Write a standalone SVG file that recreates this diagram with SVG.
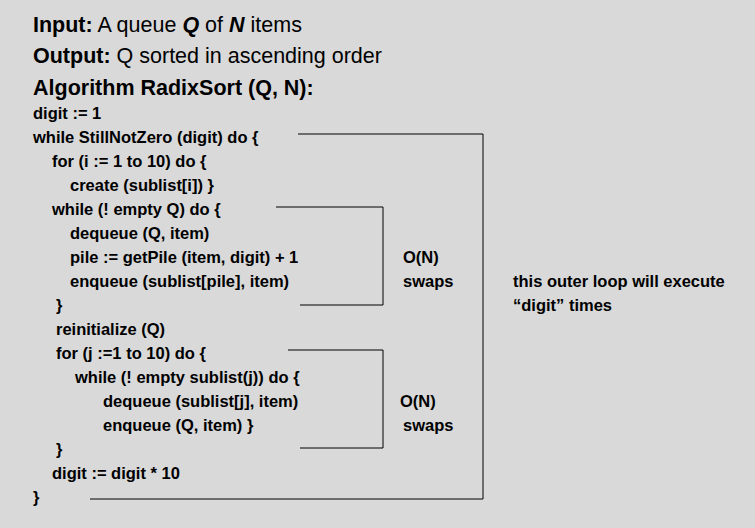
<svg xmlns="http://www.w3.org/2000/svg" width="755" height="528" viewBox="0 0 755 528" xml:space="preserve">
<style>
text{font-family:"Liberation Sans",Arial,sans-serif;fill:#000}
.h{font-size:21.5px}
.c{font-size:16.5px;font-weight:bold}
.b{font-weight:bold}
</style>
<rect width="755" height="528" fill="#d9d9d9"/>
<g id="header">
<text class="h" x="33" y="32"><tspan class="b">Input:</tspan>  A queue <tspan class="b" font-style="italic">Q</tspan> of <tspan class="b" font-style="italic">N</tspan> items</text>
<text class="h" x="33" y="63"><tspan class="b">Output:</tspan> Q sorted in ascending order</text>
<text class="h b" x="33" y="95">Algorithm RadixSort (Q, N):</text>
</g>
<g id="code">
<text class="c" x="33" y="119">digit := 1</text>
<text class="c" x="33" y="143">while StillNotZero (digit) do {</text>
<text class="c" x="52" y="167">for (i := 1 to 10)  do {</text>
<text class="c" x="70" y="191">create (sublist[i])  }</text>
<text class="c" x="52" y="215">while (! empty Q) do {</text>
<text class="c" x="70" y="239">dequeue (Q, item)</text>
<text class="c" x="70" y="263">pile := getPile (item, digit) + 1</text>
<text class="c" x="70" y="287">enqueue  (sublist[pile], item)</text>
<text class="c" x="56" y="311">}</text>
<text class="c" x="56" y="335">reinitialize (Q)</text>
<text class="c" x="56" y="359">for (j :=1 to 10) do {</text>
<text class="c" x="75" y="383">while (! empty sublist(j)) do {</text>
<text class="c" x="103" y="407">dequeue (sublist[j], item)</text>
<text class="c" x="103" y="431">enqueue (Q, item)    }</text>
<text class="c" x="56" y="455">}</text>
<text class="c" x="52" y="479">digit := digit * 10</text>
<text class="c" x="33" y="503">}</text>
</g>
<g id="connectors">
<polyline points="298,134 483,134 483,499 90,499" fill="none" stroke="#000"/>
<polyline points="276,207 383,207 383,305 300,305" fill="none" stroke="#000"/>
<polyline points="288,350 383,350 383,448 300,448" fill="none" stroke="#000"/>
</g>
<g id="labels">
<text class="c" x="403" y="263">O(N)</text>
<text class="c" x="403" y="287">swaps</text>
<text class="c" x="400" y="407">O(N)</text>
<text class="c" x="403" y="431">swaps</text>
<text class="c" x="513" y="287">this outer loop will execute</text>
<text class="c" x="513" y="311">“digit” times</text>
</g>
</svg>
